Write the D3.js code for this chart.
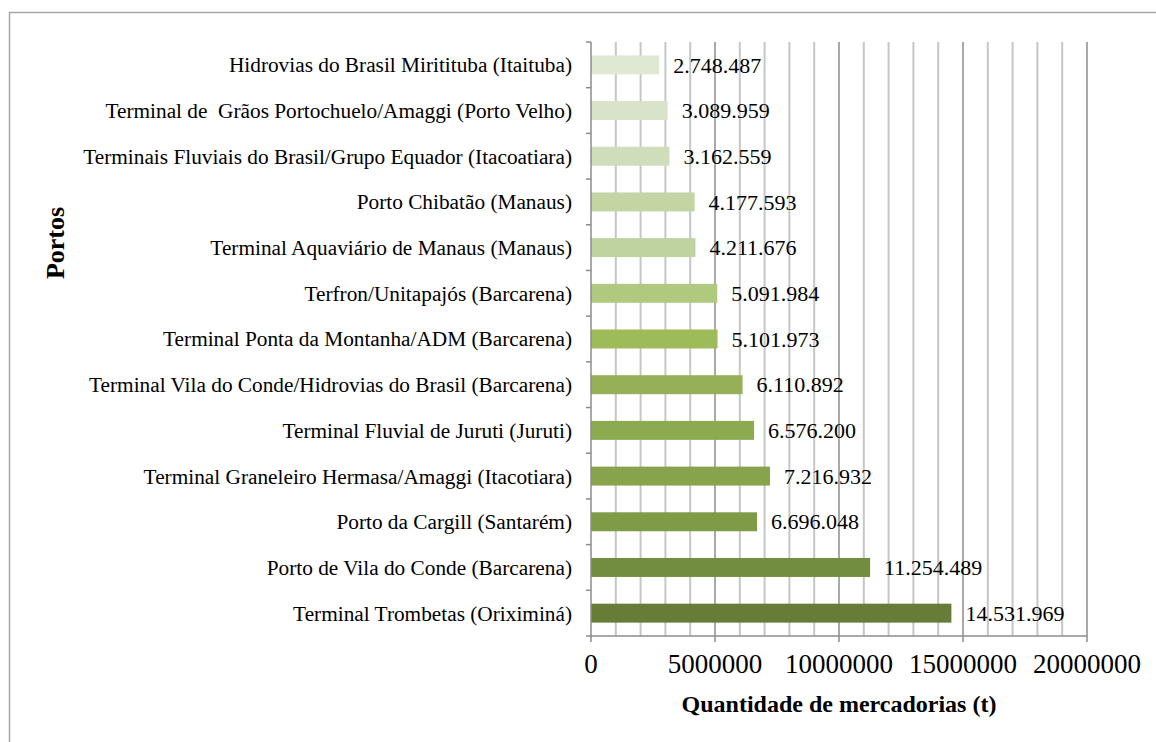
<!DOCTYPE html>
<html>
<head>
<meta charset="utf-8">
<script src="https://cdn.jsdelivr.net/npm/d3@7"></script>
<style>
  body { margin: 0; background: #fff; }
  svg text { font-family: "Liberation Serif", "Times New Roman", serif; fill: #000; }
</style>
</head>
<body>
<svg id="chart" width="1156" height="742"></svg>
<script>
// Data
var portos = [
    "Hidrovias do Brasil Miritituba (Itaituba)",
    "Terminal de  Grãos Portochuelo/Amaggi (Porto Velho)",
    "Terminais Fluviais do Brasil/Grupo Equador (Itacoatiara)",
    "Porto Chibatão (Manaus)",
    "Terminal Aquaviário de Manaus (Manaus)",
    "Terfron/Unitapajós (Barcarena)",
    "Terminal Ponta da Montanha/ADM (Barcarena)",
    "Terminal Vila do Conde/Hidrovias do Brasil (Barcarena)",
    "Terminal Fluvial de Juruti (Juruti)",
    "Terminal Graneleiro Hermasa/Amaggi (Itacotiara)",
    "Porto da Cargill (Santarém)",
    "Porto de Vila do Conde (Barcarena)",
    "Terminal Trombetas (Oriximiná)"
];
var quantidades = [2748487, 3089959, 3162559, 4177593, 4211676, 5091984, 5101973,
                   6110892, 6576200, 7216932, 6696048, 11254489, 14531969];
var rotulos = ["2.748.487", "3.089.959", "3.162.559", "4.177.593", "4.211.676", "5.091.984", "5.101.973",
               "6.110.892", "6.576.200", "7.216.932", "6.696.048", "11.254.489", "14.531.969"];
var cores = ["#dfe8d3", "#d8e3c9", "#cfddbb", "#c2d5a3", "#bed39f", "#afc97f", "#9dbb58",
             "#95b055", "#8caa50", "#87a44c", "#7f9b47", "#728d3f", "#667c37"];
var xTicks = [0, 5000000, 10000000, 15000000, 20000000];

var svg = d3.select("#chart");

// outer frame
svg.append("rect")
    .attr("x", 9.5).attr("y", 12.5)
    .attr("width", 1160).attr("height", 760)
    .attr("fill", "none").attr("stroke", "#a6a6a6").attr("stroke-width", 1.5);

var pLeft = 591, pRight = 1087, pTop = 42, pBottom = 636;

var x = d3.scaleLinear().domain([0, 20000000]).range([pLeft, pRight]);
var y = d3.scaleBand().domain(portos).range([pTop, pBottom]).paddingInner(0.585).paddingOuter(0.2925);

// minor gridlines (every 1M)
var g = svg.append("g");
g.selectAll("line.minor")
    .data(d3.range(1000000, 20000001, 1000000).filter(function (d) { return d % 5000000 !== 0; }))
    .enter().append("line")
    .attr("x1", function (d) { return x(d); }).attr("x2", function (d) { return x(d); })
    .attr("y1", pTop).attr("y2", pBottom)
    .attr("stroke", "#c6c6c6").attr("stroke-width", 2);

// major gridlines
g.selectAll("line.major")
    .data(xTicks.slice(1))
    .enter().append("line")
    .attr("x1", function (d) { return x(d); }).attr("x2", function (d) { return x(d); })
    .attr("y1", pTop).attr("y2", pBottom + 6)
    .attr("stroke", "#8c8c8c").attr("stroke-width", 1.5);

// bars
svg.selectAll("rect.bar")
    .data(portos)
    .enter().append("rect")
    .attr("class", "bar")
    .attr("x", x(0))
    .attr("y", function (d) { return y(d); })
    .attr("width", function (d, i) { return x(quantidades[i]) - x(0); })
    .attr("height", y.bandwidth())
    .attr("fill", function (d, i) { return cores[i]; });

// value labels
svg.selectAll("text.val")
    .data(portos)
    .enter().append("text")
    .attr("class", "val")
    .attr("x", function (d, i) { return x(quantidades[i]) + 14; })
    .attr("y", function (d) { return y(d) + y.bandwidth() / 2; })
    .attr("dy", "0.35em")
    .style("font-size", "22px")
    .text(function (d, i) { return rotulos[i]; });

// y axis
var yAxis = svg.append("g");
yAxis.append("line")
    .attr("x1", pLeft).attr("x2", pLeft).attr("y1", pTop).attr("y2", pBottom + 6)
    .attr("stroke", "#8c8c8c").attr("stroke-width", 1.5);
yAxis.selectAll("line.tick")
    .data(d3.range(0, portos.length + 1))
    .enter().append("line")
    .attr("class", "tick")
    .attr("x1", pLeft - 5).attr("x2", pLeft)
    .attr("y1", function (i) { return pTop + i * y.step(); })
    .attr("y2", function (i) { return pTop + i * y.step(); })
    .attr("stroke", "#8c8c8c").attr("stroke-width", 1.5);
yAxis.selectAll("text.cat")
    .data(portos)
    .enter().append("text")
    .attr("class", "cat")
    .attr("x", pLeft - 19)
    .attr("y", function (d) { return y(d) + y.bandwidth() / 2; })
    .attr("dy", "0.35em")
    .attr("text-anchor", "end")
    .style("font-size", "21.3px")
    .style("white-space", "pre")
    .text(function (d) { return d; });

// x axis
svg.append("line")
    .attr("x1", pLeft).attr("x2", pRight).attr("y1", pBottom).attr("y2", pBottom)
    .attr("stroke", "#8c8c8c").attr("stroke-width", 1.5);
svg.selectAll("text.xt")
    .data(xTicks)
    .enter().append("text")
    .attr("class", "xt")
    .attr("x", function (d) { return x(d); })
    .attr("y", 673)
    .attr("text-anchor", "middle")
    .style("font-size", "27px")
    .text(function (d) { return d; });

// axis titles
svg.append("text")
    .attr("x", 839).attr("y", 712)
    .attr("text-anchor", "middle")
    .style("font-size", "24px").style("font-weight", "bold")
    .text("Quantidade de mercadorias (t)");
svg.append("text")
    .attr("transform", "translate(64,243) rotate(-90)")
    .attr("text-anchor", "middle")
    .style("font-size", "26px").style("font-weight", "bold")
    .text("Portos");
</script>
</body>
</html>
